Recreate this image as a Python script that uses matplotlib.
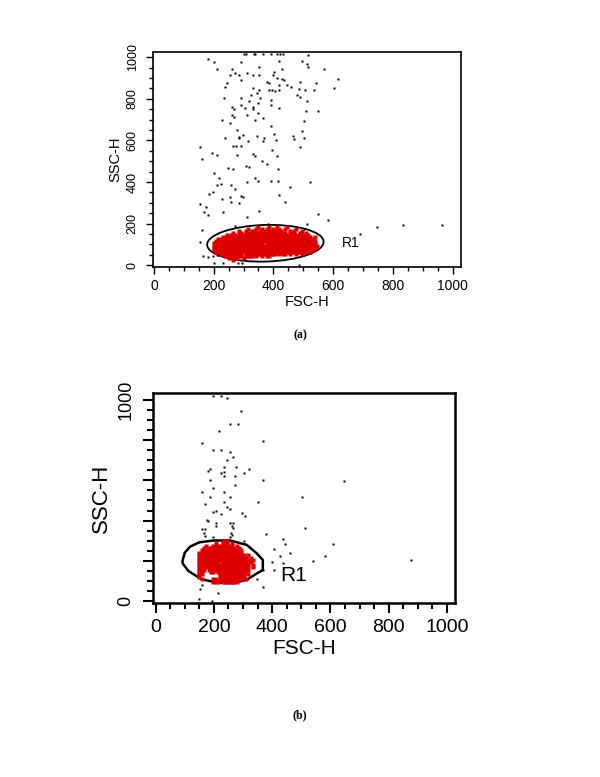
import matplotlib
matplotlib.use("Agg")
import matplotlib.pyplot as plt
from matplotlib.patches import Ellipse, Polygon
from matplotlib.ticker import MultipleLocator

plt.rcParams['font.family'] = ['Liberation Sans', 'DejaVu Sans']

# ---------------- data: panel (a) ----------------
a_black_x = [300, 307, 334, 339, 364, 391, 412, 422, 433, 516,
             182, 202, 290, 419, 495, 514, 516, 570, 210, 262, 353, 428, 403,
             255, 270, 284, 310, 331, 353, 398, 411, 428, 290, 243, 238, 377, 385, 434, 444, 417, 488, 542,
             332, 353, 386, 394, 406, 419, 459, 485, 507, 535, 346, 325, 355, 479, 488, 236, 290, 391, 317,
             290, 260, 268, 306, 331, 332, 350, 391, 420, 511, 510, 548,
             260, 268, 312, 350, 366, 339, 228, 256, 503, 391, 277, 402, 495,
             284, 297, 285, 345, 365, 316, 370, 467, 470, 501, 237, 408,
             264, 276, 290, 154, 194, 210, 279, 331, 337, 396, 411, 490,
             162, 361, 377, 307, 318, 248, 264, 414, 202, 218, 339, 350, 392, 414, 523, 310, 259, 212, 226,
             454, 272, 197, 183, 293, 298, 419, 229, 256, 259, 286, 154, 440, 174, 168, 182, 230, 353, 548,
             310, 583, 511, 161, 154, 270, 383, 502,
             165, 182, 199, 215, 230, 283, 294, 202, 486,
             690, 746, 833, 965, 617, 604]
a_black_y = [1016, 1016, 1016, 1016, 1013, 1017, 1017, 1017, 1016, 1009,
             993, 977, 977, 984, 984, 969, 953, 945, 945, 945, 953, 945, 929,
             916, 923, 916, 923, 916, 916, 916, 900, 897, 889, 875, 859, 881, 875, 889, 865, 868, 881, 875,
             852, 843, 843, 843, 836, 843, 859, 849, 843, 843, 827, 820, 804, 820, 811, 804, 804, 795, 788,
             769, 761, 753, 756, 761, 751, 780, 772, 756, 788, 740, 740,
             724, 714, 724, 732, 708, 700, 700, 682, 692, 668, 652, 630, 644,
             618, 624, 612, 620, 596, 596, 612, 622, 606, 612, 612, 604,
             572, 572, 572, 567, 541, 532, 532, 535, 527, 556, 524, 567,
             511, 501, 485, 479, 474, 469, 464, 463, 445, 418, 421, 407, 407, 407, 399, 399, 384, 384, 391,
             375, 368, 351, 344, 335, 328, 339, 319, 327, 304, 298, 296, 303, 279, 258, 242, 258, 263, 248,
             232, 216, 197, 168, 114, 187, 200, 174,
             45, 41, 45, 49, 9, 9, 9, 10, 2,
             152, 186, 192, 192, 897, 851]

# red (gated) population, occupancy read row by row (top row first)
a_red_rows = [
    "......................#....#...#....#",
    ".................#...#..#.#..#..#..#....#",
    ".............#..#..##..###.##.####...#.#...#",
    "..........#..##.####.###.#####.#####.###..#..#",
    ".......#.###.########.#########.#########.#####",
    ".....#.##########.###############.##############.#",
    "...#######################.######################",
    "..############.###################.###############",
    ".########################.########################",
    ".###############.##################################",
    ".#########.##############.#############.##########",
    ".######.##############.##########.#####.#########",
    "..####.#######.########.#####.####.#####.#####.#",
    "...#####.######.####.#####.####.#.##.#..#..#",
    "......#.####.##.####.#..#.##",
    "........#.#.#..#",
    "..........#",
]
a_red_top = 185
a_red_left = 195
a_red_dx = 7
a_red_dy = 10

a_gate_center = (373, 106)
a_gate_size = (390, 176)
a_gate_angle = 2.5

# ---------------- data: panel (b) ----------------
b_black_x = [198, 225, 246, 292, 255, 283, 216, 159, 370, 198, 225, 255, 264, 246, 275, 236, 187, 179,
             322, 303, 225, 234, 274, 234, 188, 370, 648, 274, 197, 159, 234, 187, 255, 504, 350, 171,
             234, 246, 255, 198, 206, 225, 296, 306, 514, 264, 264, 259, 379, 436, 445, 608, 408, 463,
             427, 581, 541, 398, 436, 876, 368, 408, 349, 370,
             179, 206, 206, 255, 261, 160, 171, 196, 255, 263, 303, 152, 160, 149, 214, 195,
             165, 168, 176]
b_black_y = [1020, 1020, 1008, 947, 879, 879, 844, 784, 796, 750, 750, 740, 715, 703, 668, 668, 655, 645,
             657, 635, 635, 642, 620, 620, 600, 600, 599, 575, 562, 541, 541, 516, 516, 516, 493, 481,
             493, 469, 458, 444, 448, 434, 436, 425, 365, 386, 362, 340, 332, 307, 282, 284, 259, 237,
             226, 224, 201, 192, 191, 202, 154, 154, 109, 71,
             398, 386, 373, 386, 373, 356, 356, 320, 320, 330, 300, 60, 78, 10, 38, 0,
             337, 322, 404]

b_red_rows = [
    "..........#.#",
    ".......#..###.#",
    "...#..#########.#",
    "..##############.#",
    ".################.#",
    "###################",
    "####################.#",
    "#####################.#",
    "###########.##########.#",
    "#########.#############",
    "######################.#",
    "#####.################.#",
    "###.##################",
    "##...##.#############",
    "##.......###########.#",
    "#........###########",
    ".#....##.##########.#",
    "......###.#######",
]
b_red_top = 300
b_red_left = 150
b_red_dx = 8
b_red_dy = 12

b_gate_x = [92, 100, 118, 150, 200, 255, 313, 347, 368, 368, 345, 313, 267, 210, 158, 112, 93]
b_gate_y = [199, 240, 270, 292, 301, 301, 279, 237, 204, 154, 135, 106, 89, 92, 108, 150, 187]

ticks = [0, 200, 400, 600, 800, 1000]
a_ytick_labels = ['0', '200', '400', '600', '800', '1000']
b_ytick_labels = ['0', '', '', '', '', '1000']
xtick_labels = ['0', '200', '400', '600', '800', '1000']

RED = '#dd0000'


def grid_points(rows, top, left, dx, dy):
    xs, ys = [], []
    for r, row in enumerate(rows):
        for c, ch in enumerate(row):
            if ch == '#':
                xs.append(left + c * dx)
                ys.append(top - r * dy)
    return xs, ys


fig = plt.figure(figsize=(6, 7.77), dpi=100)

# ---------------- panel (a) ----------------
ax1 = fig.add_axes([0.2545, 0.6564, 0.514, 0.2767])
ax1.set_xlim(-4, 1028)
ax1.set_ylim(-8, 1025)
rx, ry = grid_points(a_red_rows, a_red_top, a_red_left, a_red_dx, a_red_dy)
ax1.plot(rx, ry, 's', ms=2.5, color=RED, mec='none', ls='none')
ax1.plot(a_black_x, a_black_y, 's', ms=1.7, color='black', mec='none', ls='none')
ax1.add_patch(Ellipse(a_gate_center, a_gate_size[0], a_gate_size[1], angle=a_gate_angle,
                      fill=False, lw=1.3, color='black'))
ax1.text(629, 107, 'R1', fontsize=10, va='center', ha='left')
ax1.set_xticks(ticks)
ax1.set_xticklabels(xtick_labels, fontsize=10)
ax1.set_yticks(ticks)
ax1.set_yticklabels(a_ytick_labels, fontsize=9, rotation=90, va='center')
ax1.xaxis.set_minor_locator(MultipleLocator(50))
ax1.yaxis.set_minor_locator(MultipleLocator(50))
ax1.tick_params(which='major', direction='out', length=5, width=1.0, pad=4)
ax1.tick_params(which='minor', direction='out', length=3, width=1.0)
ax1.tick_params(axis='y', which='major', pad=5)
for s in ax1.spines.values():
    s.set_linewidth(1.2)
ax1.set_xlabel('FSC-H', fontsize=10.5, labelpad=1)
ax1.set_ylabel('SSC-H', fontsize=10.5, labelpad=3)

# ---------------- panel (b) ----------------
ax2 = fig.add_axes([0.2545, 0.2243, 0.504, 0.2695])
ax2.set_xlim(-10, 1028)
ax2.set_ylim(-8.5, 1033)
rx, ry = grid_points(b_red_rows, b_red_top, b_red_left, b_red_dx, b_red_dy)
ax2.plot(rx, ry, 's', ms=2.2, color=RED, mec='none', ls='none')
ax2.plot(b_black_x, b_black_y, 's', ms=1.8, color='black', mec='none', ls='none')
ax2.add_patch(Polygon(list(zip(b_gate_x, b_gate_y)), closed=True, fill=False, lw=1.8,
                      edgecolor='black'))
ax2.text(427, 127, 'R1', fontsize=15, va='center', ha='left')
ax2.set_xticks(ticks)
ax2.set_xticklabels(xtick_labels, fontsize=14)
ax2.set_yticks(ticks)
ax2.set_yticklabels(b_ytick_labels, fontsize=13, rotation=90, va='center')
ax2.xaxis.set_minor_locator(MultipleLocator(50))
ax2.yaxis.set_minor_locator(MultipleLocator(50))
ax2.tick_params(which='major', direction='out', length=7, width=1.5, pad=5)
ax2.tick_params(which='minor', direction='out', length=4, width=1.5)
ax2.tick_params(axis='y', which='major', pad=6)
for s in ax2.spines.values():
    s.set_linewidth(1.8)
ax2.set_xlabel('FSC-H', fontsize=15, labelpad=2)
ax2.set_ylabel('SSC-H', fontsize=16, labelpad=4)

fig.text(0.5, 1 - 335 / 777, '(a)', ha='center', va='center', fontsize=8.5,
         fontweight='bold', family=['Liberation Serif', 'DejaVu Serif'])
fig.text(0.5, 1 - 715 / 777, '(b)', ha='center', va='center', fontsize=8.5,
         fontweight='bold', family=['Liberation Serif', 'DejaVu Serif'])

fig.savefig('out.png', dpi=100)
